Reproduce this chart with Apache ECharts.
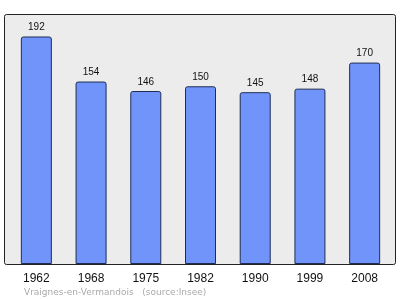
<!DOCTYPE html>
<html><head><meta charset="utf-8">
<script src="https://cdn.jsdelivr.net/npm/echarts@6/dist/echarts.min.js"></script>
<style>html,body{margin:0;padding:0;background:#fff}#c{width:400px;height:299px}</style>
</head><body><div id="c"></div>
<script>
const years = ['1962','1968','1975','1982','1990','1999','2008'];
const population = [192,154,146,150,145,148,170];
const footer = 'Vraignes-en-Vermandois   (source:Insee)';
const chart = echarts.init(document.getElementById('c'), null, {renderer:'canvas'});
chart.setOption({
  animation:false,
  backgroundColor:'#fff',
  graphic:[
    {type:'rect', z:-10, shape:{x:4.5,y:14.5,width:391,height:250,r:2}, style:{fill:'#ececec', stroke:'#222', lineWidth:1}},
    {type:'text', left:24, top:288, style:{text:footer, fill:'#aaa', font:'9px "DejaVu Sans", sans-serif'}}
  ],
  grid:{left:9, right:8, top:14, bottom:35},
  xAxis:{type:'category', data:years, axisLine:{show:false}, axisTick:{show:false},
    axisLabel:{color:'#111', fontSize:12, fontFamily:'"Liberation Sans", sans-serif', margin:9}},
  yAxis:{type:'value', min:0, max:211, show:false, splitLine:{show:false}},
  series:[{type:'bar', data:population, barWidth:31,
    itemStyle:{color:'#7094fa', borderColor:'#1f2d55', borderWidth:1, borderRadius:[2,2,0,0]},
    label:{show:true, position:'top', distance:4, color:'#111', fontSize:10, fontFamily:'"Liberation Sans", sans-serif'}}]
});
</script></body></html>
